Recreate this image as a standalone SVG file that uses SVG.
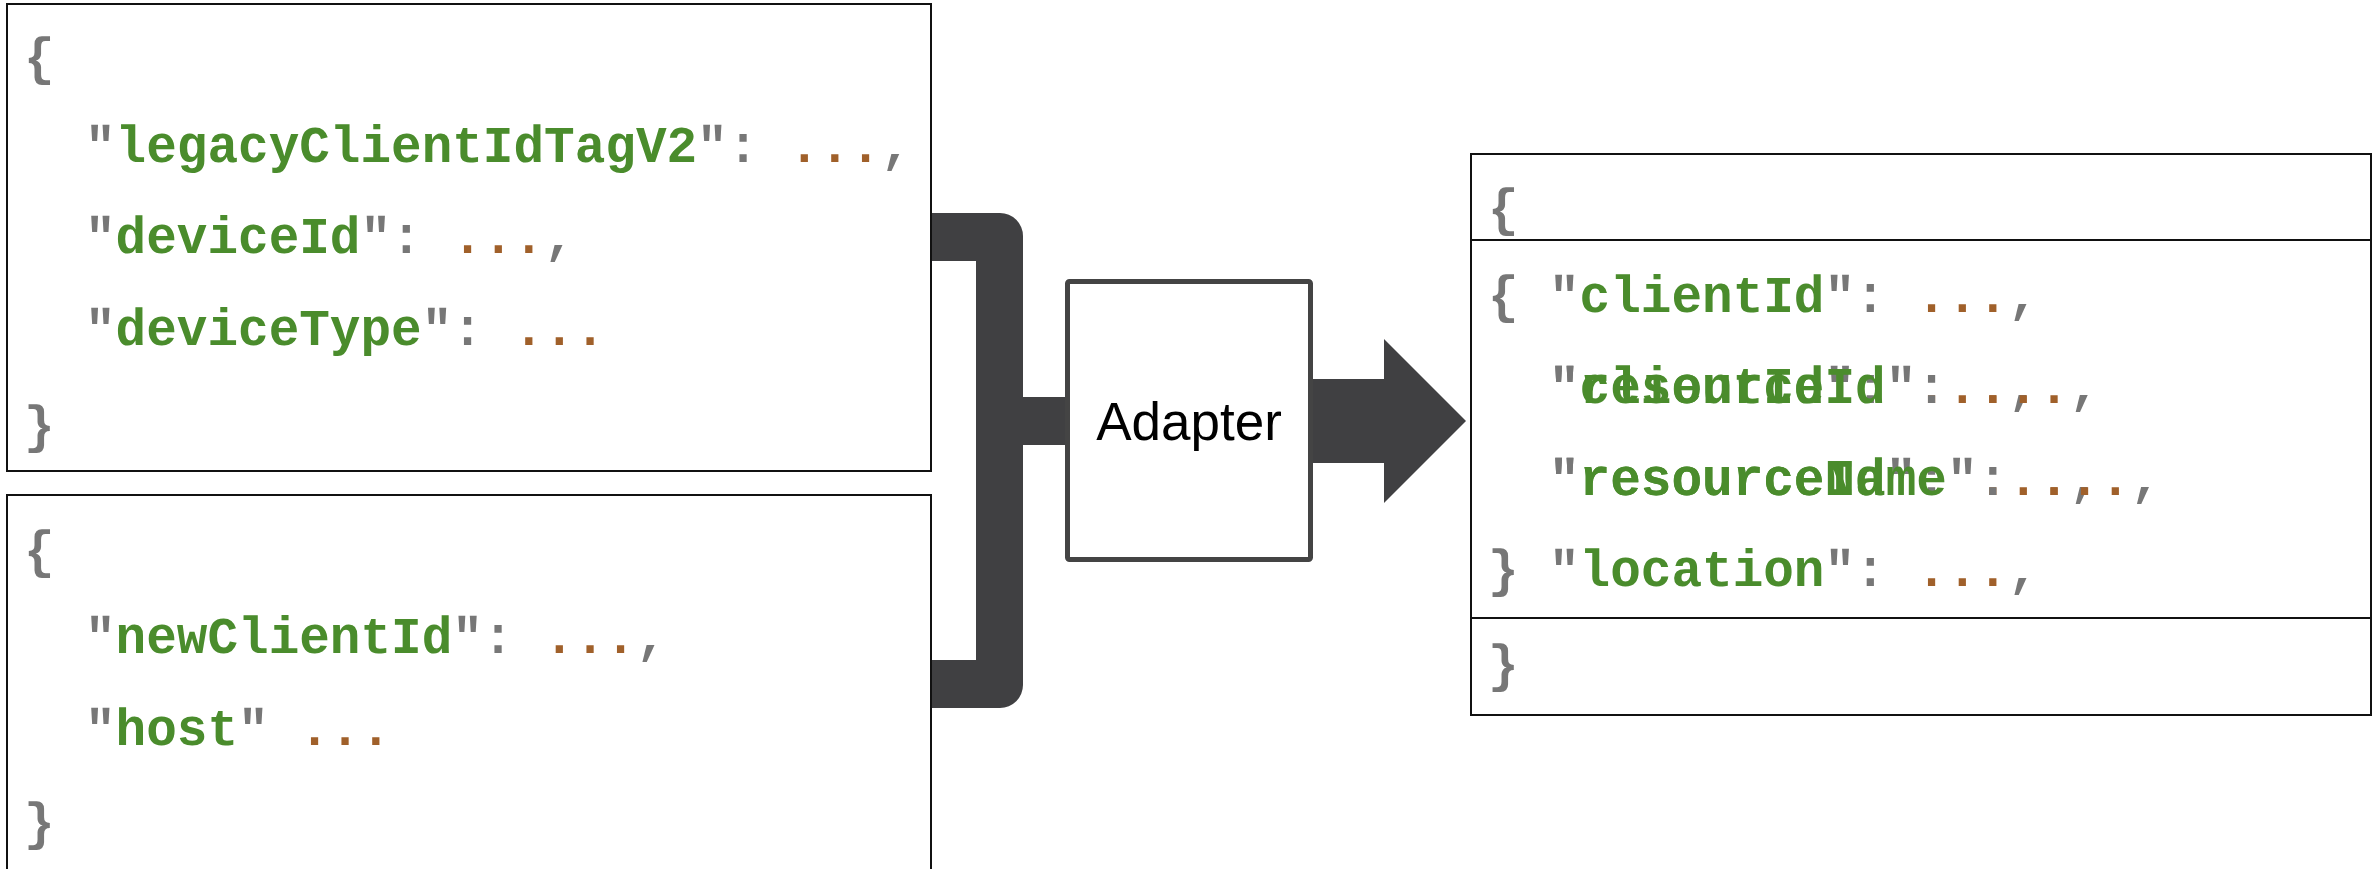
<svg xmlns="http://www.w3.org/2000/svg" width="2377" height="869" viewBox="0 0 2377 869" xml:space="preserve">
<style>
.box{fill:#fff;stroke:#111;stroke-width:2}
.code{font-family:"Liberation Mono","Courier New",monospace;font-size:51px;font-weight:bold;fill:#777}
.k{fill:#4a8c2c}
.d{fill:#a0602a}
.p{fill:#777}
.shape{fill:#404042}
.lbl{font-family:"Liberation Sans",Arial,sans-serif;font-size:53px;fill:#000;text-anchor:middle}
</style>
<rect width="2377" height="869" fill="#fff"/>
<g id="connectors">
<path class="shape" d="M931,213 H1000 A23,23 0 0 1 1023,236 V397 H1066 V445 H1023 V685 A23,23 0 0 1 1000,708 H931 V660 H976 V261 H931 Z"/>
<polygon class="shape" points="1313,379 1384,379 1384,339 1466,421 1384,503 1384,463 1313,463"/>
</g>
<g id="legacy-source">
<rect class="box" x="7" y="4" width="924" height="467"/>
<text class="code" x="24" y="74">{</text>
<text class="code" x="85" y="162">"<tspan class="k">legacyClientIdTagV2</tspan>": <tspan class="d">...</tspan>,</text>
<text class="code" x="85" y="253">"<tspan class="k">deviceId</tspan>": <tspan class="d">...</tspan>,</text>
<text class="code" x="85" y="345">"<tspan class="k">deviceType</tspan>": <tspan class="d">...</tspan></text>
<text class="code" x="24" y="442">}</text>
</g>
<g id="new-source">
<rect class="box" x="7" y="495" width="924" height="390"/>
<text class="code" x="24" y="567">{</text>
<text class="code" x="85" y="653">"<tspan class="k">newClientId</tspan>": <tspan class="d">...</tspan>,</text>
<text class="code" x="85" y="745">"<tspan class="k">host</tspan>" <tspan class="d">...</tspan></text>
<text class="code" x="24" y="839">}</text>
</g>
<g id="adapter">
<rect x="1067.5" y="281.5" width="243" height="278" rx="2" fill="#fff" stroke="#444" stroke-width="5"/>
<text class="lbl" x="1189" y="440">Adapter</text>
</g>
<g id="target">
<rect class="box" x="1471" y="154" width="900" height="86"/>
<rect class="box" x="1471" y="240" width="900" height="378"/>
<rect class="box" x="1471" y="618" width="900" height="97"/>
<text class="code" x="1488" y="225">{</text>
<text class="code" x="1488" y="312">{</text>
<text class="code" x="1549" y="312">"<tspan class="k">clientId</tspan>": <tspan class="d">...</tspan>,</text>
<text class="code" x="1549" y="403">"<tspan class="k">clientId</tspan>": <tspan class="d">...</tspan>,</text>
<text class="code" x="1549" y="403">"<tspan class="k">resourceId</tspan>": <tspan class="d">...</tspan>,</text>
<text class="code" x="1549" y="495">"<tspan class="k">resourceId</tspan>": <tspan class="d">...</tspan>,</text>
<text class="code" x="1549" y="495">"<tspan class="k">resourceName</tspan>": <tspan class="d">...</tspan>,</text>
<text class="code" x="1488" y="586">}</text>
<text class="code" x="1549" y="586">"<tspan class="k">location</tspan>": <tspan class="d">...</tspan>,</text>
<text class="code" x="1488" y="681">}</text>
</g>
</svg>
